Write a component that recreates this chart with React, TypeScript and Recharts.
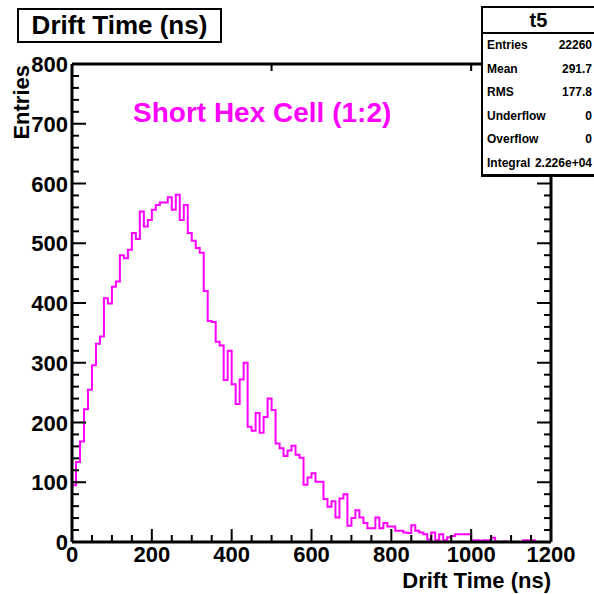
import { Line, LineChart, XAxis, YAxis } from "recharts"

// entries per 10 ns bin, 0..1200 ns
const counts = [
  95, 134, 168, 222, 255, 296, 332, 344, 408, 399,
  427, 436, 480, 475, 489, 517, 507, 553, 528, 539,
  556, 564, 568, 568, 577, 556, 581, 539, 564, 517,
  504, 492, 484, 420, 370, 368, 335, 329, 271, 320,
  264, 231, 272, 300, 193, 186, 216, 183, 209, 240,
  221, 165, 157, 144, 153, 161, 146, 141, 96, 108,
  115, 101, 101, 72, 59, 68, 41, 73, 80, 27,
  40, 53, 41, 32, 23, 23, 41, 23, 32, 26,
  26, 19, 19, 16, 15, 28, 19, 16, 13, 4,
  16, 3, 13, 3, 8, 10, 13, 13, 13, 13,
  3, 3, 2, 3, 3, 7, 1, 0, 1, 0,
  0, 0, 0, 3, 3, 3, 0, 0, 0, 0,
]
const binWidth = 10

const xMajor = [0, 200, 400, 600, 800, 1000, 1200]
const yMajor = [0, 100, 200, 300, 400, 500, 600, 700, 800]
const xTicks = Array.from({ length: 25 }, (_, i) => i * 50)
const yTicks = Array.from({ length: 41 }, (_, i) => i * 20)

const statsLabels = ["Entries", "Mean", "RMS", "Underflow", "Overflow", "Integral"]
const statsValues = ["22260", "291.7", "177.8", "0", "0", "2.226e+04"]

const histData = counts.map((c, i) => ({ x: i * binWidth, y: c }))
histData.push({ x: counts.length * binWidth, y: counts[counts.length - 1] })

const font = "'Liberation Sans', Arial, Helvetica, sans-serif"

function BottomTick(props: any) {
  const { x, y, payload } = props
  const major = xMajor.includes(payload.value)
  return (
    <g>
      <line x1={x} x2={x} y1={y} y2={y - (major ? 13 : 7)} stroke="#000" strokeWidth={2} />
      {major && (
        <text x={x} y={y + 20} textAnchor="middle" fontFamily={font} fontWeight="bold" fontSize={22} fill="#000">
          {payload.value}
        </text>
      )}
    </g>
  )
}

function TopTick(props: any) {
  const { x, y, payload } = props
  const major = xMajor.includes(payload.value)
  return <line x1={x} x2={x} y1={y} y2={y + (major ? 13 : 7)} stroke="#000" strokeWidth={2} />
}

function LeftTick(props: any) {
  const { x, y, payload } = props
  const major = yMajor.includes(payload.value)
  return (
    <g>
      <line x1={x} x2={x + (major ? 14 : 7)} y1={y} y2={y} stroke="#000" strokeWidth={2} />
      {major && (
        <text x={x - 4} y={y + 8} textAnchor="end" fontFamily={font} fontWeight="bold" fontSize={22} fill="#000">
          {payload.value}
        </text>
      )}
    </g>
  )
}

function RightTick(props: any) {
  const { x, y, payload } = props
  const major = yMajor.includes(payload.value)
  return <line x1={x} x2={x - (major ? 14 : 7)} y1={y} y2={y} stroke="#000" strokeWidth={2} />
}

function XTitle(props: any) {
  const vb = props.viewBox || { x: 72, y: 542, width: 479 }
  return (
    <text x={vb.x + vb.width} y={vb.y + 46} textAnchor="end" fontFamily={font} fontWeight="bold" fontSize={22} fill="#000">
      Drift Time (ns)
    </text>
  )
}

function YTitle(props: any) {
  const vb = props.viewBox || { x: 12, y: 64 }
  const x = vb.x + 17
  const y = vb.y + 1
  return (
    <text x={x} y={y} transform={`rotate(-90 ${x} ${y})`} textAnchor="end" fontFamily={font} fontWeight="bold" fontSize={22} fill="#000">
      Entries
    </text>
  )
}

export default function App() {
  return (
    <div style={{ position: "absolute", left: 0, top: 0, width: 594, height: 594, background: "#fff", overflow: "hidden" }}>
      <LineChart width={594} height={594} data={histData} margin={{ top: 63, right: 42, bottom: 12, left: 12 }}>
        <XAxis
          xAxisId="b"
          type="number"
          dataKey="x"
          domain={[0, 1200]}
          allowDataOverflow
          ticks={xTicks}
          interval={0}
          tickLine={false}
          tickSize={0}
          tickMargin={0}
          height={40}
          axisLine={{ stroke: "#000", strokeWidth: 3 }}
          tick={<BottomTick />}
          label={<XTitle />}
        />
        <XAxis
          xAxisId="t"
          orientation="top"
          type="number"
          domain={[0, 1200]}
          allowDataOverflow
          ticks={xTicks}
          interval={0}
          tickLine={false}
          tickSize={0}
          tickMargin={0}
          height={1}
          axisLine={{ stroke: "#000", strokeWidth: 3 }}
          tick={<TopTick />}
        />
        <YAxis
          yAxisId="l"
          type="number"
          domain={[0, 800]}
          allowDataOverflow
          ticks={yTicks}
          interval={0}
          tickLine={false}
          tickSize={0}
          tickMargin={0}
          width={60}
          axisLine={{ stroke: "#000", strokeWidth: 3 }}
          tick={<LeftTick />}
          label={<YTitle />}
        />
        <YAxis
          yAxisId="r"
          orientation="right"
          type="number"
          domain={[0, 800]}
          allowDataOverflow
          ticks={yTicks}
          interval={0}
          tickLine={false}
          tickSize={0}
          tickMargin={0}
          width={1}
          axisLine={{ stroke: "#000", strokeWidth: 3 }}
          tick={<RightTick />}
        />
        <Line
          xAxisId="b"
          yAxisId="l"
          type="stepAfter"
          dataKey="y"
          stroke="#ff00ff"
          strokeWidth={2}
          dot={false}
          activeDot={false}
          isAnimationActive={false}
        />
      </LineChart>

      <div
        style={{
          position: "absolute",
          left: 17,
          top: 8,
          width: 201,
          height: 31,
          border: "2px solid #000",
          fontFamily: font,
          fontWeight: "bold",
          fontSize: 26,
          lineHeight: "31px",
          textAlign: "center",
          background: "#fff",
        }}
      >
        Drift Time (ns)
      </div>

      <div
        style={{
          position: "absolute",
          left: 133,
          top: 95,
          fontFamily: font,
          fontWeight: "bold",
          fontSize: 28,
          lineHeight: "36px",
          color: "#ff00ff",
          whiteSpace: "nowrap",
        }}
      >
        Short Hex Cell (1:2)
      </div>

      <div
        style={{
          position: "absolute",
          left: 481,
          top: 6,
          width: 120,
          height: 166,
          borderLeft: "2px solid #000",
          borderTop: "2px solid #000",
          borderBottom: "3px solid #000",
          background: "#fff",
          fontFamily: font,
          fontWeight: "bold",
        }}
      >
        <div style={{ height: 24, lineHeight: "24px", width: 111, textAlign: "center", fontSize: 20, borderBottom: "2px solid #000" }}>
          t5
        </div>
        {statsLabels.map((label, i) => (
          <div key={label} style={{ display: "flex", justifyContent: "space-between", width: 105, paddingLeft: 4, height: 23.6, lineHeight: "23.6px", fontSize: 12 }}>
            <span>{label}</span>
            <span>{statsValues[i]}</span>
          </div>
        ))}
      </div>
    </div>
  )
}
